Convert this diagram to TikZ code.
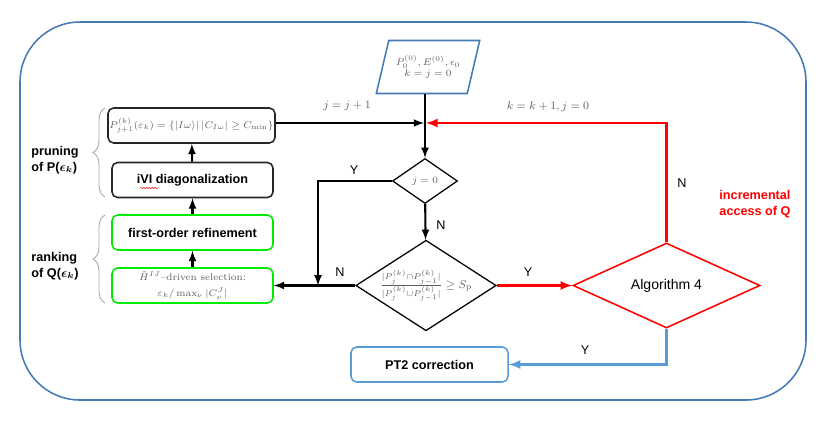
\documentclass[tikz,border=0pt]{standalone}
\usepackage{amsmath}
\usepackage{bm}
\usepackage{fontspec}
\setsansfont{Liberation Sans}
\usetikzlibrary{shapes.geometric,decorations.pathreplacing,decorations.pathmorphing}
\definecolor{frameblue}{RGB}{70,122,180}
\definecolor{ptblue}{RGB}{88,155,215}
\definecolor{lgreen}{RGB}{0,235,0}
\definecolor{mathgray}{RGB}{95,95,95}

\begin{document}
\begin{tikzpicture}[x=.025cm,y=-.025cm,line width=.8pt,font=\sffamily\small,
  box/.style={draw=black!85,line width=1.1pt,rounded corners=4pt,minimum width=4.025cm,minimum height=.875cm,inner sep=1pt},
  gbox/.style={box,draw=lgreen},
  dec/.style={diamond,draw,line width=.9pt,inner sep=0pt},
  flow/.style={line width=1.5pt,-latex},
  mth/.style={text=mathgray,font=\rmfamily\scriptsize},
  side/.style={font=\sffamily\small\bfseries,align=left},
  yn/.style={font=\sffamily\small,inner sep=1pt}]
\useasboundingbox (0,0) rectangle (830,424);
\draw[frameblue,line width=1.1pt,rounded corners=1.5cm] (20,22) rectangle (806,400);
% left column
\node[box,mth] (pp) at (191.5,125.5) {$P_{j+1}^{(k)}(\varepsilon_k)=\{|I\omega\rangle|\,|C_{I\omega}|\geq C_{\min}\}$};
\node[box,font=\sffamily\small\bfseries] (ivi) at (192.5,180) {iVI diagonalization};
\node[gbox,font=\sffamily\small\bfseries] (fo) at (192.5,232.5) {first-order refinement};
\node[gbox,mth,align=center] (hs) at (192.5,285.5) {$\tilde{H}^{IJ}$--driven selection:\\[3pt]$\varepsilon_k/\max_\nu|C_\nu^J|$};
\draw[red,line width=.4pt,decorate,decoration={snake,amplitude=.4pt,segment length=2pt}] (ivi.west) ++(29,8) -- ++(18,0);
\draw[black!35,line width=.6pt,decorate,decoration={brace,amplitude=.3cm}] (105,197) -- (105,108);
\draw[black!35,line width=.6pt,decorate,decoration={brace,amplitude=.3cm}] (105,303) -- (105,215);
\node[side] (prn) at (55,160) {pruning\\of P($\bm{\epsilon_k}$)};
\node[side] (rnk) at (55,266) {ranking\\of Q($\bm{\epsilon_k}$)};
% main flow
\node[trapezium,trapezium left angle=68,trapezium right angle=112,trapezium stretches=true,draw=frameblue,line width=1.1pt,
  minimum width=2.6cm,minimum height=1.325cm,inner sep=1pt,mth,align=center] (init) at (428,67) {$P_0^{(0)},E^{(0)},\epsilon_0$\\$k=j=0$};
\coordinate (jn) at (425,123);
\node[dec,mth,aspect=1.45,minimum width=1.625cm,minimum height=1.125cm] (jz) at (425,181) {$j=0$};
\node[dec,aspect=1.55,minimum width=3.2cm,minimum height=2.1cm,text=mathgray] (ov) at (426,285.5)
  {\footnotesize$\frac{|P_j^{(k)}\cap P_{j-1}^{(k)}|}{|P_j^{(k)}\cup P_{j-1}^{(k)}|}\geq S_{\mathrm{p}}$};
\node[dec,draw=red,line width=1.1pt,aspect=2.2,minimum width=4.675cm,minimum height=2.125cm,font=\sffamily\normalsize] (alg) at (666.5,285.5) {Algorithm 4};
\node[box,draw=ptblue,minimum width=3.925cm,font=\sffamily\small\bfseries] (pt) at (429.5,364.5) {PT2 correction};
\coordinate (ym) at (318,285.5);
% connectors
\draw[flow] (hs) -- (fo);
\draw[flow] (fo) -- (ivi);
\draw[flow] (ivi) -- (pp);
\draw[flow,shorten >=.7pt] (pp.east |- jn) -- (jn);
\draw[flow] (init.south -| jn) -- (jz.north);
\draw[flow] (jz) -- (ov);
\draw[flow] (jz.west) -| (ym);
\draw[flow] (ov.west) -- (hs.east);
\draw[flow,red,line width=1.8pt] (ov.east) -- (alg.west);
\draw[flow,red,line width=1.8pt,shorten >=.7pt] (alg.north) |- (jn);
\draw[flow,ptblue,line width=1.8pt] (alg.south) |- (pt.east);
% labels
\node[mth,font=\rmfamily\footnotesize] (l1) at (347,106) {$j=j+1$};
\node[mth,font=\rmfamily\footnotesize] (l2) at (548,107) {$k=k+1,j=0$};
\node[yn] (ly) at (354,170) {Y};
\node[yn] (ln1) at (441,225) {N};
\node[yn] (ln2) at (340,272) {N};
\node[yn] (ly2) at (528,272) {Y};
\node[yn] (ln3) at (682,183) {N};
\node[yn] (ly3) at (585,350) {Y};
\node[side,text=red] (inc) at (755,204) {incremental\\access of Q};
\end{tikzpicture}
\end{document}
